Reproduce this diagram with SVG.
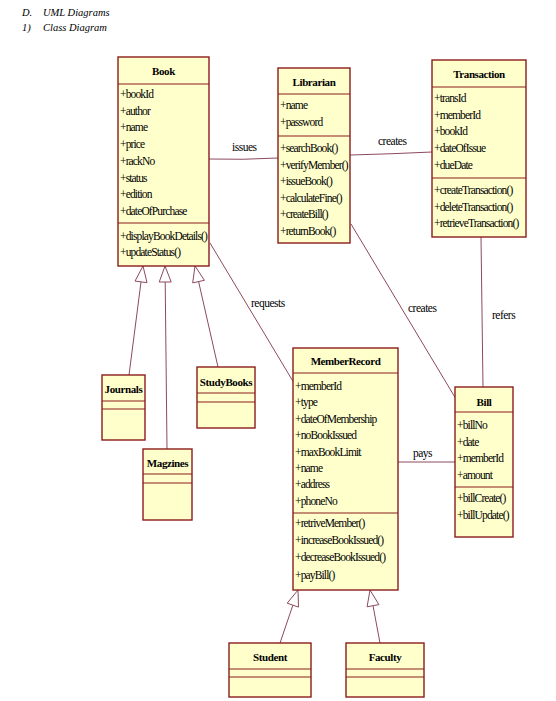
<svg xmlns="http://www.w3.org/2000/svg" width="556" height="701" viewBox="0 0 556 701">
<style>
.box{fill:#ffffcc;stroke:#8b1c1c;stroke-width:1.4}
.div{stroke:#8b1c1c;stroke-width:1.2}
.t{font-family:"Liberation Serif",serif;font-size:11.5px;letter-spacing:-0.85px;fill:#000}
.h{font-family:"Liberation Serif",serif;font-size:11px;font-weight:bold;letter-spacing:-0.4px;fill:#000;text-anchor:middle}
.lbl{font-family:"Liberation Serif",serif;font-size:11.5px;letter-spacing:-0.5px;fill:#000}
.hd{font-family:"Liberation Serif",serif;font-size:10.5px;font-style:italic;fill:#000}
.ln{fill:none;stroke:#8c4a5c;stroke-width:1}
.tri{fill:#ffffff;stroke:#8c4a5c;stroke-width:1}
</style>
<rect width="556" height="701" fill="#ffffff"/>
<g id="header">
<text class="hd" x="22" y="16">D.</text><text class="hd" x="43" y="16">UML Diagrams</text>
<text class="hd" x="22" y="31">1)</text><text class="hd" x="43" y="31">Class Diagram</text>
</g>
<g id="connectors">
<path class="ln" d="M209,159 Q243,160 278,158"/>
<text class="lbl" x="232" y="151">issues</text>
<path class="ln" d="M350,155 Q391,154 432,152"/>
<text class="lbl" x="378" y="145">creates</text>
<line class="ln" x1="210" y1="243" x2="294" y2="383"/>
<text class="lbl" x="251" y="307">requests</text>
<line class="ln" x1="351" y1="224" x2="456" y2="399"/>
<text class="lbl" x="408" y="312">creates</text>
<line class="ln" x1="481" y1="237" x2="483" y2="387"/>
<text class="lbl" x="492" y="319">refers</text>
<line class="ln" x1="398" y1="462" x2="455" y2="462"/>
<text class="lbl" x="413" y="457">pays</text>
<line class="ln" x1="141" y1="282" x2="129" y2="375"/>
<polygon class="tri" points="143,266 147,282.6 135,281.1"/>
<line class="ln" x1="165.2" y1="282" x2="167" y2="449"/>
<polygon class="tri" points="165,266 171.2,282 159.2,282"/>
<line class="ln" x1="198.6" y1="281.6" x2="218" y2="367"/>
<polygon class="tri" points="195,266 204.4,280.3 192.7,282.9"/>
<line class="ln" x1="292.9" y1="605.1" x2="280" y2="643"/>
<polygon class="tri" points="298,590 298.5,607.1 287.2,603.2"/>
<line class="ln" x1="373" y1="605.7" x2="380" y2="643"/>
<polygon class="tri" points="370,590 378.9,604.6 367.1,606.8"/>
</g>
<g id="Book">
<rect class="box" x="118" y="57" width="91" height="209"/>
<line class="div" x1="118" y1="84" x2="209" y2="84"/>
<line class="div" x1="118" y1="223" x2="209" y2="223"/>
<text class="h" x="163.5" y="75">Book</text>
<text class="t" x="120" y="98">+bookId</text>
<text class="t" x="120" y="114.7">+author</text>
<text class="t" x="120" y="131.4">+name</text>
<text class="t" x="120" y="148.1">+price</text>
<text class="t" x="120" y="164.8">+rackNo</text>
<text class="t" x="120" y="181.5">+status</text>
<text class="t" x="120" y="198.2">+edition</text>
<text class="t" x="120" y="215">+dateOfPurchase</text>
<text class="t" x="120" y="240">+displayBookDetails()</text>
<text class="t" x="120" y="256">+updateStatus()</text>
</g>
<g id="Librarian">
<rect class="box" x="278" y="68" width="72" height="175"/>
<line class="div" x1="278" y1="94" x2="350" y2="94"/>
<line class="div" x1="278" y1="136" x2="350" y2="136"/>
<text class="h" x="314" y="86">Librarian</text>
<text class="t" x="280" y="109">+name</text>
<text class="t" x="280" y="126">+password</text>
<text class="t" x="280" y="152">+searchBook()</text>
<text class="t" x="280" y="168.6">+verifyMember()</text>
<text class="t" x="280" y="185.2">+issueBook()</text>
<text class="t" x="280" y="201.8">+calculateFine()</text>
<text class="t" x="280" y="218.4">+createBill()</text>
<text class="t" x="280" y="235">+returnBook()</text>
</g>
<g id="Transaction">
<rect class="box" x="432" y="60" width="94" height="177"/>
<line class="div" x1="432" y1="87" x2="526" y2="87"/>
<line class="div" x1="432" y1="178" x2="526" y2="178"/>
<text class="h" x="479" y="78">Transaction</text>
<text class="t" x="434" y="102">+transId</text>
<text class="t" x="434" y="118.7">+memberId</text>
<text class="t" x="434" y="135.4">+bookId</text>
<text class="t" x="434" y="152">+dateOfIssue</text>
<text class="t" x="434" y="168.8">+dueDate</text>
<text class="t" x="434" y="194">+createTransaction()</text>
<text class="t" x="434" y="210.5">+deleteTransaction()</text>
<text class="t" x="434" y="227">+retrieveTransaction()</text>
</g>
<g id="MemberRecord">
<rect class="box" x="293" y="348" width="105" height="242"/>
<line class="div" x1="293" y1="373" x2="398" y2="373"/>
<line class="div" x1="293" y1="513" x2="398" y2="513"/>
<text class="h" x="345.5" y="365">MemberRecord</text>
<text class="t" x="295" y="390">+memberId</text>
<text class="t" x="295" y="406.4">+type</text>
<text class="t" x="295" y="422.8">+dateOfMembership</text>
<text class="t" x="295" y="439.2">+noBookIssued</text>
<text class="t" x="295" y="455.6">+maxBookLimit</text>
<text class="t" x="295" y="472">+name</text>
<text class="t" x="295" y="488.4">+address</text>
<text class="t" x="295" y="505">+phoneNo</text>
<text class="t" x="295" y="527">+retriveMember()</text>
<text class="t" x="295" y="544">+increaseBookIssued()</text>
<text class="t" x="295" y="561">+decreaseBookIssued()</text>
<text class="t" x="295" y="579">+payBill()</text>
</g>
<g id="Bill">
<rect class="box" x="455" y="387" width="58" height="150"/>
<line class="div" x1="455" y1="412" x2="513" y2="412"/>
<line class="div" x1="455" y1="487" x2="513" y2="487"/>
<text class="h" x="484" y="406">Bill</text>
<text class="t" x="457" y="429">+billNo</text>
<text class="t" x="457" y="445.5">+date</text>
<text class="t" x="457" y="462">+memberId</text>
<text class="t" x="457" y="478.5">+amount</text>
<text class="t" x="457" y="502">+billCreate()</text>
<text class="t" x="457" y="519">+billUpdate()</text>
</g>
<g id="Journals">
<rect class="box" x="102" y="375" width="43" height="65"/>
<line class="div" x1="102" y1="401" x2="145" y2="401"/>
<line class="div" x1="102" y1="409" x2="145" y2="409"/>
<text class="h" x="123.5" y="393">Journals</text>
</g>
<g id="Magzines">
<rect class="box" x="143" y="449" width="49" height="71"/>
<line class="div" x1="143" y1="474" x2="192" y2="474"/>
<line class="div" x1="143" y1="483" x2="192" y2="483"/>
<text class="h" x="167.5" y="467">Magzines</text>
</g>
<g id="StudyBooks">
<rect class="box" x="197" y="367" width="58" height="61"/>
<line class="div" x1="197" y1="393" x2="255" y2="393"/>
<line class="div" x1="197" y1="402" x2="255" y2="402"/>
<text class="h" x="226" y="386">StudyBooks</text>
</g>
<g id="Student">
<rect class="box" x="229" y="643" width="82" height="54"/>
<line class="div" x1="229" y1="669" x2="311" y2="669"/>
<line class="div" x1="229" y1="677" x2="311" y2="677"/>
<text class="h" x="270" y="661">Student</text>
</g>
<g id="Faculty">
<rect class="box" x="346" y="643" width="78" height="54"/>
<line class="div" x1="346" y1="669" x2="424" y2="669"/>
<line class="div" x1="346" y1="677" x2="424" y2="677"/>
<text class="h" x="385" y="661">Faculty</text>
</g>
</svg>
